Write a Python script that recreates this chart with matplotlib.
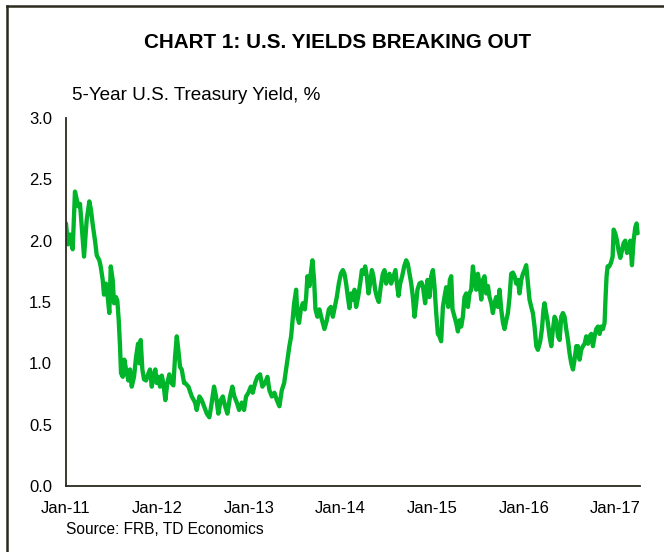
import matplotlib
matplotlib.use("Agg")
import matplotlib.pyplot as plt
from matplotlib.lines import Line2D

# ── Data: 5-year U.S. Treasury yield, % ──────────────────────────────────────
years = [
    2011.000, 2011.022, 2011.044, 2011.073, 2011.098, 2011.134, 2011.153, 2011.172,
    2011.197, 2011.226, 2011.255, 2011.273, 2011.292, 2011.317, 2011.336, 2011.364,
    2011.379, 2011.401, 2011.415, 2011.437, 2011.456, 2011.473, 2011.489, 2011.510,
    2011.525, 2011.546, 2011.561, 2011.576, 2011.590, 2011.601, 2011.620, 2011.637,
    2011.656, 2011.681, 2011.699, 2011.718, 2011.743, 2011.765, 2011.787, 2011.801,
    2011.816, 2011.834, 2011.852, 2011.874, 2011.896, 2011.918, 2011.937, 2011.954,
    2011.976, 2011.991, 2012.009, 2012.027, 2012.046, 2012.063, 2012.085, 2012.107,
    2012.129, 2012.151, 2012.173, 2012.191, 2012.210, 2012.227, 2012.246, 2012.264,
    2012.290, 2012.301, 2012.337, 2012.374, 2012.410, 2012.428, 2012.457, 2012.483,
    2012.508, 2012.538, 2012.566, 2012.592, 2012.617, 2012.639, 2012.664, 2012.691,
    2012.713, 2012.738, 2012.763, 2012.792, 2012.817, 2012.839, 2012.866, 2012.891,
    2012.920, 2012.945, 2012.967, 2012.992, 2013.019, 2013.040, 2013.066, 2013.091,
    2013.120, 2013.145, 2013.175, 2013.200, 2013.222, 2013.248, 2013.277, 2013.303,
    2013.331, 2013.357, 2013.383, 2013.404, 2013.419, 2013.440, 2013.459, 2013.478,
    2013.492, 2013.514, 2013.528, 2013.546, 2013.565, 2013.587, 2013.609, 2013.623,
    2013.637, 2013.659, 2013.678, 2013.692, 2013.710, 2013.725, 2013.746, 2013.768,
    2013.787, 2013.805, 2013.823, 2013.849, 2013.871, 2013.893, 2013.915, 2013.937,
    2013.958, 2013.980, 2014.002, 2014.024, 2014.042, 2014.060, 2014.079, 2014.096,
    2014.115, 2014.133, 2014.151, 2014.169, 2014.191, 2014.213, 2014.232, 2014.249,
    2014.268, 2014.286, 2014.304, 2014.322, 2014.341, 2014.358, 2014.377, 2014.396,
    2014.417, 2014.439, 2014.461, 2014.479, 2014.497, 2014.516, 2014.533, 2014.552,
    2014.577, 2014.599, 2014.614, 2014.632, 2014.650, 2014.672, 2014.694, 2014.716,
    2014.734, 2014.752, 2014.771, 2014.789, 2014.807, 2014.825, 2014.839, 2014.861,
    2014.883, 2014.898, 2014.923, 2014.949, 2014.970, 2014.989, 2015.008, 2015.025,
    2015.044, 2015.062, 2015.080, 2015.098, 2015.117, 2015.134, 2015.153, 2015.175,
    2015.193, 2015.208, 2015.222, 2015.244, 2015.262, 2015.281, 2015.298, 2015.317,
    2015.335, 2015.353, 2015.372, 2015.390, 2015.408, 2015.426, 2015.445, 2015.462,
    2015.481, 2015.499, 2015.517, 2015.536, 2015.554, 2015.572, 2015.590, 2015.609,
    2015.626, 2015.645, 2015.663, 2015.681, 2015.699, 2015.718, 2015.736, 2015.754,
    2015.773, 2015.790, 2015.809, 2015.827, 2015.845, 2015.863, 2015.882, 2015.900,
    2015.918, 2015.937, 2015.954, 2015.973, 2015.991, 2016.009, 2016.027, 2016.046,
    2016.063, 2016.082, 2016.100, 2016.118, 2016.137, 2016.155, 2016.180, 2016.199,
    2016.216, 2016.227, 2016.246, 2016.264, 2016.282, 2016.301, 2016.319, 2016.337,
    2016.355, 2016.374, 2016.392, 2016.410, 2016.428, 2016.446, 2016.464, 2016.483,
    2016.501, 2016.519, 2016.538, 2016.555, 2016.574, 2016.592, 2016.610, 2016.628,
    2016.647, 2016.665, 2016.683, 2016.702, 2016.719, 2016.738, 2016.756, 2016.774,
    2016.792, 2016.811, 2016.829, 2016.847, 2016.865, 2016.883, 2016.894, 2016.905,
    2016.916, 2016.934, 2016.953, 2016.971, 2016.982, 2017.000, 2017.019, 2017.036,
    2017.055, 2017.073, 2017.091, 2017.109, 2017.128, 2017.145, 2017.164, 2017.182,
    2017.200, 2017.219, 2017.233, 2017.244,
]
yields = [
    2.14, 1.97, 2.05, 1.93, 2.40, 2.28, 2.30, 2.11,
    1.87, 2.17, 2.32, 2.25, 2.13, 2.00, 1.88, 1.84,
    1.79, 1.68, 1.56, 1.65, 1.54, 1.41, 1.79, 1.68,
    1.49, 1.54, 1.51, 1.35, 1.14, 0.92, 0.89, 1.03,
    0.95, 0.86, 0.95, 0.81, 0.89, 1.05, 1.16, 1.00,
    1.19, 0.95, 0.87, 0.86, 0.91, 0.95, 0.81, 0.89,
    0.95, 0.84, 0.89, 0.81, 0.90, 0.84, 0.70, 0.84,
    0.91, 0.84, 0.82, 1.05, 1.22, 1.11, 0.97, 0.95,
    0.84, 0.84, 0.81, 0.73, 0.68, 0.62, 0.73, 0.70,
    0.65, 0.59, 0.56, 0.68, 0.81, 0.73, 0.59, 0.70,
    0.73, 0.65, 0.59, 0.73, 0.81, 0.73, 0.68, 0.62,
    0.68, 0.62, 0.73, 0.76, 0.81, 0.76, 0.84, 0.89,
    0.91, 0.81, 0.84, 0.89, 0.78, 0.73, 0.76, 0.70,
    0.65, 0.78, 0.84, 0.95, 1.03, 1.14, 1.22, 1.38,
    1.49, 1.60, 1.38, 1.33, 1.44, 1.49, 1.44, 1.54,
    1.71, 1.63, 1.76, 1.84, 1.68, 1.44, 1.38, 1.44,
    1.38, 1.33, 1.28, 1.35, 1.44, 1.46, 1.38, 1.46,
    1.54, 1.65, 1.73, 1.76, 1.73, 1.65, 1.54, 1.45,
    1.57, 1.52, 1.60, 1.46, 1.54, 1.65, 1.76, 1.73,
    1.79, 1.71, 1.57, 1.65, 1.76, 1.71, 1.60, 1.54,
    1.50, 1.63, 1.73, 1.76, 1.65, 1.71, 1.73, 1.65,
    1.71, 1.76, 1.65, 1.55, 1.65, 1.71, 1.79, 1.84,
    1.81, 1.73, 1.65, 1.54, 1.38, 1.49, 1.60, 1.65,
    1.66, 1.63, 1.49, 1.68, 1.54, 1.71, 1.76, 1.63,
    1.41, 1.24, 1.22, 1.18, 1.46, 1.54, 1.62, 1.46,
    1.68, 1.71, 1.44, 1.38, 1.33, 1.26, 1.35, 1.30,
    1.38, 1.54, 1.57, 1.46, 1.57, 1.60, 1.79, 1.68,
    1.60, 1.73, 1.65, 1.52, 1.68, 1.71, 1.57, 1.63,
    1.54, 1.49, 1.41, 1.49, 1.54, 1.46, 1.60, 1.44,
    1.33, 1.28, 1.35, 1.41, 1.54, 1.73, 1.74, 1.71,
    1.65, 1.68, 1.57, 1.68, 1.73, 1.76, 1.80, 1.65,
    1.52, 1.46, 1.41, 1.30, 1.14, 1.11, 1.18, 1.28,
    1.44, 1.49, 1.41, 1.33, 1.22, 1.14, 1.28, 1.38,
    1.35, 1.22, 1.19, 1.38, 1.41, 1.38, 1.28, 1.19,
    1.08, 1.00, 0.95, 1.03, 1.14, 1.14, 1.03, 1.11,
    1.14, 1.16, 1.22, 1.16, 1.22, 1.24, 1.14, 1.22,
    1.28, 1.30, 1.24, 1.30, 1.28, 1.33, 1.54, 1.71,
    1.79, 1.79, 1.82, 1.87, 2.09, 2.06, 2.00, 1.92,
    1.86, 1.92, 1.98, 2.00, 1.90, 1.92, 2.00, 1.80,
    2.00, 2.11, 2.14, 2.06,
]

tick_years  = [2011, 2012, 2013, 2014, 2015, 2016, 2017]
tick_labels = ["Jan-11", "Jan-12", "Jan-13", "Jan-14", "Jan-15", "Jan-16", "Jan-17"]
y_ticks     = [0.0, 0.5, 1.0, 1.5, 2.0, 2.5, 3.0]

plt.rcParams["font.family"] = ["Liberation Sans", "DejaVu Sans"]

fig = plt.figure(figsize=(6.64, 5.52), dpi=100)
fig.patch.set_facecolor("white")
ax = fig.add_axes([66 / 664, 1 - 486 / 552, 574 / 664, 368 / 552])

ax.plot(years, yields, color="#00b52a", lw=3.1,
        solid_joinstyle="round", solid_capstyle="round")

ax.set_xlim(2011, 2017.27)
ax.set_ylim(0, 3.0)
ax.set_xticks(tick_years)
ax.set_xticklabels(tick_labels)
ax.set_yticks(y_ticks)
ax.set_yticklabels([f"{v:.1f}" for v in y_ticks])
ax.tick_params(length=0, labelsize=12, colors="black")
ax.tick_params(axis="y", pad=10)
ax.tick_params(axis="x", pad=11)

for side in ("top", "right"):
    ax.spines[side].set_visible(False)
for side in ("left", "bottom"):
    ax.spines[side].set_color("#2a2a1e")
    ax.spines[side].set_linewidth(1.3)

# ── Texts ─────────────────────────────────────────────────────────────────────
fig.text(338 / 664, 1 - 43 / 552, "CHART 1: U.S. YIELDS BREAKING OUT",
         ha="center", va="center", fontsize=14.9, fontweight="bold")
fig.text(72 / 664, 1 - 96 / 552, "5-Year U.S. Treasury Yield, %",
         ha="left", va="center", fontsize=13.6)
fig.text(66 / 664, 1 - 530 / 552, "Source: FRB, TD Economics",
         ha="left", va="center", fontsize=11.2)

# outer frame (left and top edges visible in the crop)
fig.add_artist(Line2D([7 / 664, 7 / 664], [0, 1 - 6 / 552],
                      transform=fig.transFigure, color="#2a2a1e", lw=1.8))
fig.add_artist(Line2D([7 / 664, 1], [1 - 6 / 552, 1 - 6 / 552],
                      transform=fig.transFigure, color="#2a2a1e", lw=1.8))

fig.savefig("out.png", dpi=100)
